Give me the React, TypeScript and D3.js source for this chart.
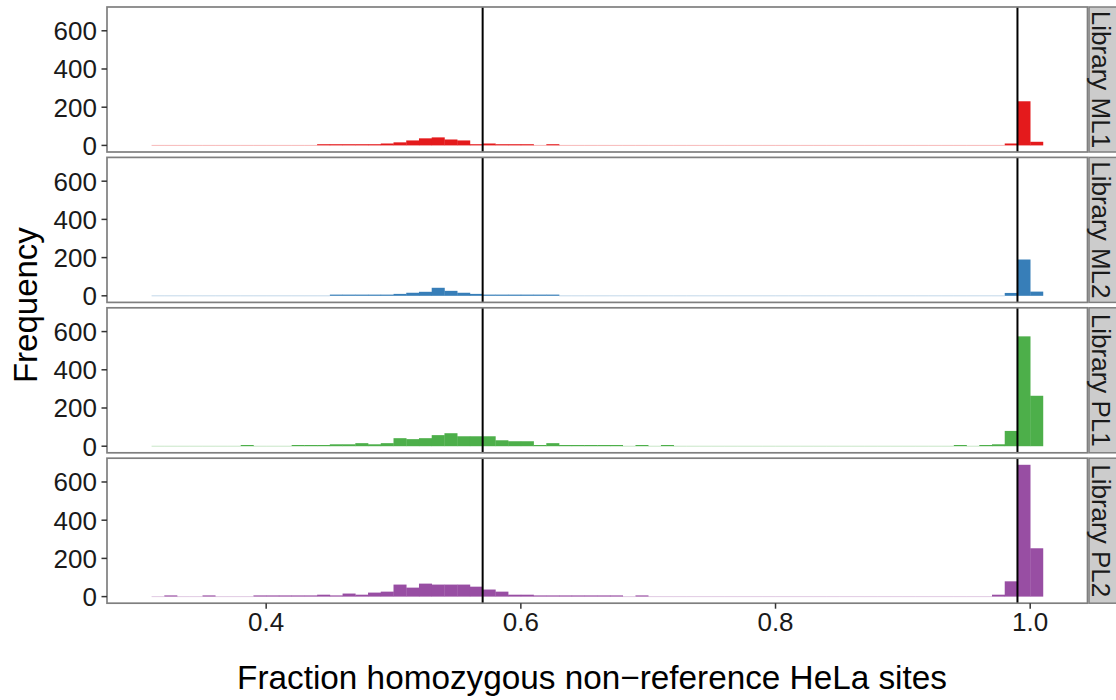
import React from "react";
import * as d3 from "d3";

// ---- data ----
const BIN_START = 0.31;
const BIN_WIDTH = 0.01;
const libraries = ["Library ML1", "Library ML2", "Library PL1", "Library PL2"];
const colors = ["#E41A1C", "#377EB8", "#4DAF4A", "#984EA3"];
const cutoffs = [0.57, 0.99];
const xTicks = [0.4, 0.6, 0.8, 1.0];
const yTicks = [0, 200, 400, 600];

// counts per bin (bin lower edges 0.31, 0.32, ..., 1.00)
const countsML1 = [
  0, 0, 0, 0, 0, 0, 0, 0, 0, 0, 0, 0, 0, 4, 4, 4, 4, 4, 10, 16,
  26, 37, 42, 31, 26, 5, 10, 6, 3, 3, 0, 3, 0, 0, 0, 0, 0, 0, 0, 0,
  0, 0, 0, 0, 0, 0, 0, 0, 0, 0, 0, 0, 0, 0, 0, 0, 0, 0, 0, 0,
  0, 0, 0, 0, 0, 0, 0, 10, 231, 19,
];
const countsML2 = [
  0, 0, 0, 0, 0, 0, 0, 0, 0, 0, 0, 0, 0, 0, 3, 3, 3, 6, 3, 10,
  16, 21, 42, 26, 16, 10, 6, 3, 3, 3, 3, 3, 0, 0, 0, 0, 0, 0, 0, 0,
  0, 0, 0, 0, 0, 0, 0, 0, 0, 0, 0, 0, 0, 0, 0, 0, 0, 0, 0, 0,
  0, 0, 0, 0, 0, 0, 0, 15, 190, 22,
];
const countsPL1 = [
  0, 0, 0, 0, 0, 0, 0, 3, 0, 0, 0, 3, 3, 5, 10, 10, 16, 10, 16, 42,
  37, 42, 58, 68, 52, 52, 52, 31, 26, 26, 5, 16, 5, 5, 5, 3, 3, 0, 3, 0,
  3, 0, 0, 0, 0, 0, 0, 0, 0, 0, 0, 0, 0, 0, 0, 0, 0, 0, 0, 0,
  0, 0, 0, 3, 0, 4, 10, 80, 575, 264,
];
const countsPL2 = [
  0, 3, 0, 0, 3, 0, 0, 0, 3, 3, 3, 5, 3, 10, 5, 16, 10, 21, 26, 63,
  47, 68, 63, 63, 63, 52, 37, 26, 10, 10, 5, 5, 3, 3, 3, 3, 3, 0, 3, 0,
  0, 0, 0, 0, 0, 0, 0, 0, 0, 0, 0, 0, 0, 0, 0, 0, 0, 0, 0, 0,
  0, 0, 0, 0, 0, 0, 10, 80, 690, 253,
];
const allCounts = [countsML1, countsML2, countsPL1, countsPL2];

// ---- layout ----
const W = 1116;
const H = 700;
const left = 107;
const right = 1087.5;
const panelTop0 = 7;
const panelH = 145;
const panelStep = 150.4;
const stripX = 1089;
const font = "'Liberation Sans', Arial, Helvetica, sans-serif";
const border = "#7F7F7F";

export default function App() {
  const x = d3.scaleLinear().domain([0.275, 1.045]).range([left, right]);
  const maxCount = d3.max(allCounts.flat()) as number;

  return (
    <svg
      width={W}
      height={H}
      style={{ position: "absolute", left: 0, top: 0, background: "#fff" }}
      fontFamily={font}
    >
      <rect x={0} y={0} width={W} height={H} fill="#fff" />
      {allCounts.map((counts, p) => {
        const top = panelTop0 + p * panelStep;
        const y = d3
          .scaleLinear()
          .domain([-0.05 * maxCount, 1.05 * maxCount])
          .range([top + panelH, top]);
        const y0 = y(0);
        return (
          <g key={p}>
            <rect x={left} y={top} width={right - left} height={panelH} fill="#fff" />
            {counts.map((c, k) => {
              const v = BIN_START + k * BIN_WIDTH;
              const x0 = x(v);
              const x1 = x(v + BIN_WIDTH);
              if (c === 0) {
                return (
                  <rect
                    key={k}
                    x={x0}
                    y={y0 - 0.5}
                    width={x1 - x0}
                    height={1}
                    fill={colors[p]}
                    opacity={0.3}
                  />
                );
              }
              const h = Math.max(y0 - y(c), 1.2);
              return (
                <rect key={k} x={x0} y={y0 - h} width={x1 - x0 + 0.3} height={h} fill={colors[p]} />
              );
            })}
            {cutoffs.map((c) => (
              <line
                key={c}
                x1={x(c)}
                x2={x(c)}
                y1={top}
                y2={top + panelH}
                stroke="#000"
                strokeWidth={2}
              />
            ))}
            <rect
              x={left}
              y={top}
              width={right - left}
              height={panelH}
              fill="none"
              stroke={border}
              strokeWidth={1.7}
            />
            {yTicks.map((t) => (
              <g key={t}>
                <line x1={left - 5.5} x2={left} y1={y(t)} y2={y(t)} stroke="#333" strokeWidth={1.5} />
                <text
                  x={left - 10}
                  y={y(t)}
                  dy="0.36em"
                  textAnchor="end"
                  fontSize={26}
                  fill="#1a1a1a"
                >
                  {t}
                </text>
              </g>
            ))}
            <rect
              x={stripX}
              y={top}
              width={W - stripX + 4}
              height={panelH}
              fill="#CCCCCC"
              stroke={border}
              strokeWidth={1.5}
            />
            <text
              transform={`translate(${stripX + 2.5}, ${top + panelH / 2}) rotate(90)`}
              textAnchor="middle"
              fontSize={26}
              fill="#1a1a1a"
            >
              {libraries[p]}
            </text>
          </g>
        );
      })}
      {xTicks.map((t) => {
        const bottom = panelTop0 + 3 * panelStep + panelH;
        return (
          <g key={t}>
            <line x1={x(t)} x2={x(t)} y1={bottom} y2={bottom + 5.5} stroke="#333" strokeWidth={1.5} />
            <text x={x(t)} y={bottom + 28} textAnchor="middle" fontSize={26} fill="#1a1a1a">
              {d3.format(".1f")(t)}
            </text>
          </g>
        );
      })}
      <text x={592} y={689} textAnchor="middle" fontSize={33.3} fill="#000">
        Fraction homozygous non−reference HeLa sites
      </text>
      <text
        transform={`translate(37, ${panelTop0 + (3 * panelStep + panelH) / 2}) rotate(-90)`}
        textAnchor="middle"
        fontSize={33}
        fill="#000"
      >
        Frequency
      </text>
    </svg>
  );
}
